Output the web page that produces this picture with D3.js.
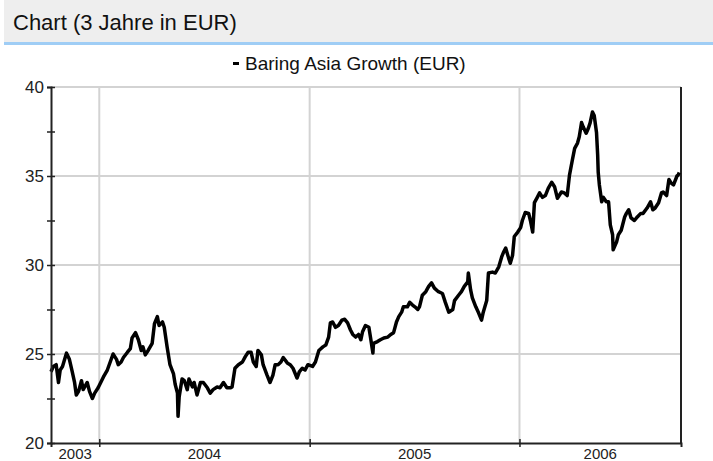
<!DOCTYPE html>
<html>
<head>
<meta charset="utf-8">
<script src="https://cdn.jsdelivr.net/npm/d3@7"></script>
<style>
  body { margin: 0; background: #fff; }
  text { font-family: Arial, "Liberation Sans", sans-serif; }
</style>
</head>
<body>
<div id="chart"></div>
<script>
const title = "Chart (3 Jahre in EUR)";
const seriesName = "Baring Asia Growth (EUR)";

const dates = [
  "2003-10-09","2003-10-13","2003-10-18","2003-10-22","2003-10-25","2003-10-29","2003-11-05","2003-11-10",
  "2003-11-15","2003-11-19","2003-11-22","2003-11-26","2003-12-01","2003-12-04","2003-12-11","2003-12-15",
  "2003-12-20","2003-12-24","2003-12-30","2004-01-08","2004-01-15","2004-01-20","2004-01-25","2004-01-31",
  "2004-02-03","2004-02-08","2004-02-12","2004-02-19","2004-02-24","2004-02-27","2004-03-04","2004-03-09",
  "2004-03-14","2004-03-17","2004-03-21","2004-03-26","2004-04-02","2004-04-06","2004-04-11","2004-04-14",
  "2004-04-20","2004-04-23","2004-04-28","2004-05-03","2004-05-09","2004-05-12","2004-05-16","2004-05-17",
  "2004-05-19","2004-05-24","2004-05-28","2004-06-02","2004-06-05","2004-06-11","2004-06-14","2004-06-19",
  "2004-06-25","2004-06-30","2004-07-07","2004-07-12","2004-07-17","2004-07-24","2004-07-29","2004-08-04",
  "2004-08-10","2004-08-16","2004-08-19","2004-08-24","2004-08-30","2004-09-06","2004-09-11","2004-09-16",
  "2004-09-21","2004-09-25","2004-09-30","2004-10-03","2004-10-09","2004-10-12","2004-10-19","2004-10-24",
  "2004-10-29","2004-11-02","2004-11-07","2004-11-12","2004-11-16","2004-11-23","2004-11-28","2004-12-03",
  "2004-12-10","2004-12-14","2004-12-19","2004-12-24","2004-12-29","2005-01-06","2005-01-11","2005-01-17",
  "2005-01-24","2005-01-29","2005-02-03","2005-02-06","2005-02-10","2005-02-15","2005-02-20","2005-02-26",
  "2005-03-03","2005-03-08","2005-03-13","2005-03-17","2005-03-22","2005-03-27","2005-03-31","2005-04-03",
  "2005-04-08","2005-04-14","2005-04-17","2005-04-21","2005-04-22","2005-04-29","2005-05-04","2005-05-10",
  "2005-05-17","2005-05-22","2005-05-27","2005-06-01","2005-06-05","2005-06-10","2005-06-13","2005-06-20",
  "2005-06-24","2005-06-29","2005-07-03","2005-07-08","2005-07-11","2005-07-16","2005-07-22","2005-07-27",
  "2005-08-01","2005-08-06","2005-08-13","2005-08-20","2005-08-25","2005-08-31","2005-09-07","2005-09-10",
  "2005-09-17","2005-09-22","2005-09-27","2005-10-03","2005-10-04","2005-10-08","2005-10-11","2005-10-17",
  "2005-10-22","2005-10-27","2005-10-30","2005-11-05","2005-11-08","2005-11-15","2005-11-20","2005-11-26",
  "2005-12-01","2005-12-04","2005-12-08","2005-12-13","2005-12-16","2005-12-20","2005-12-23","2005-12-29",
  "2006-01-03","2006-01-06","2006-01-11","2006-01-17","2006-01-20","2006-01-24","2006-01-27","2006-02-01",
  "2006-02-05","2006-02-10","2006-02-15","2006-02-20","2006-02-26","2006-03-03","2006-03-08","2006-03-15",
  "2006-03-20","2006-03-25","2006-03-29","2006-04-03","2006-04-07","2006-04-12","2006-04-15","2006-04-19",
  "2006-04-22","2006-04-27","2006-05-01","2006-05-04","2006-05-08","2006-05-11","2006-05-15","2006-05-17",
  "2006-05-18","2006-05-20","2006-05-24","2006-05-27","2006-06-01","2006-06-05","2006-06-08","2006-06-12",
  "2006-06-13","2006-06-19","2006-06-22","2006-06-27","2006-07-03","2006-07-06","2006-07-10","2006-07-14",
  "2006-07-20","2006-07-25","2006-07-31","2006-08-04","2006-08-11","2006-08-17","2006-08-21","2006-08-25",
  "2006-08-31","2006-09-05","2006-09-08","2006-09-14","2006-09-18","2006-09-22","2006-09-26","2006-10-02",
  "2006-10-04","2006-10-06"
];

const values = [
  24.0, 24.3, 24.4, 23.4, 24.1, 24.3, 25.05, 24.7,
  24.0, 23.4, 22.7, 22.9, 23.5, 23.0, 23.4, 22.9,
  22.5, 22.8, 23.1, 23.7, 24.1, 24.55, 25.0, 24.7,
  24.4, 24.55, 24.8, 25.1, 25.3, 25.9, 26.2, 25.8,
  25.2, 25.4, 24.95, 25.2, 25.6, 26.7, 27.1, 26.6,
  26.8, 26.5, 25.4, 24.4, 23.9, 23.3, 22.8, 21.5,
  22.6, 23.6, 23.5, 23.0, 23.6, 23.15, 23.4, 22.7,
  23.4, 23.4, 23.1, 22.8, 23.0, 23.15, 23.1, 23.4,
  23.1, 23.1, 23.15, 24.2, 24.4, 24.55, 24.85, 25.1,
  25.1, 24.55, 24.3, 25.2, 24.95, 24.4, 23.8, 23.4,
  23.8, 24.4, 24.4, 24.55, 24.8, 24.5, 24.4, 24.2,
  23.65, 24.0, 24.2, 24.1, 24.4, 24.3, 24.55, 25.2,
  25.4, 25.5, 25.95, 26.75, 26.8, 26.5, 26.6, 26.9,
  26.95, 26.75, 26.35, 26.1, 25.95, 26.1, 25.8, 26.25,
  26.6, 26.5, 25.9, 25.05, 25.6, 25.7, 25.8, 25.9,
  25.95, 26.1, 26.2, 26.8, 27.1, 27.35, 27.65, 27.65,
  27.9, 27.75, 27.65, 27.5, 27.65, 28.3, 28.5, 28.8,
  29.0, 28.7, 28.5, 28.4, 27.9, 27.35, 27.5, 28.0,
  28.3, 28.5, 28.8, 29.05, 29.55, 28.6, 28.15, 27.65,
  27.3, 26.9, 27.35, 28.0, 29.55, 29.6, 29.55, 29.9,
  30.45, 30.7, 30.95, 30.4, 30.1, 30.55, 31.6, 31.85,
  32.1, 32.5, 32.95, 32.9, 32.5, 31.85, 33.5, 33.8,
  34.05, 33.8, 33.9, 34.3, 34.65, 34.4, 33.75, 34.1,
  34.05, 33.9, 35.05, 35.9, 36.55, 36.85, 37.2, 38.0,
  37.75, 37.4, 37.7, 38.0, 38.6, 38.4, 37.45, 36.2,
  35.2, 34.5, 33.55, 33.8, 33.55, 33.55, 32.25, 31.7,
  30.85, 31.3, 31.7, 31.95, 32.7, 32.9, 33.1, 32.65,
  32.5, 32.7, 32.9, 32.9, 33.2, 33.55, 33.1, 33.2,
  33.5, 34.05, 34.1, 33.9, 34.8, 34.6, 34.5, 35.0,
  35.05, 35.2
];

const xDomain = ["2003-10-09", "2006-10-09"];
const yearStarts = ["2004-01-01", "2005-01-01", "2006-01-01"];
const yearLabels = ["2003", "2004", "2005", "2006"];
const yMajor = [20, 25, 30, 35, 40];
const yMinor = [22.5, 27.5, 32.5, 37.5];

const parse = d3.timeParse("%Y-%m-%d");
const data = dates.map((d, i) => ({ date: parse(d), value: values[i] }));

const W = 713, H = 461;
const plot = { left: 51, top: 87, right: 681, bottom: 443 };

const svg = d3.select("#chart").append("svg")
    .attr("width", W)
    .attr("height", H);

// header band
svg.append("rect")
    .attr("x", 4).attr("y", 0)
    .attr("width", W - 4).attr("height", 42)
    .attr("fill", "#eeeeee");
svg.append("rect")
    .attr("x", 4).attr("y", 42)
    .attr("width", W - 4).attr("height", 3)
    .attr("fill", "#9fcdf5");
svg.append("text")
    .attr("x", 13).attr("y", 30)
    .attr("font-size", 22)
    .attr("fill", "#111")
    .text(title);

var x = d3.scaleTime()
    .domain(xDomain.map(parse))
    .range([plot.left, plot.right]);

var y = d3.scaleLinear()
    .domain([20, 40])
    .range([plot.bottom, plot.top]);

// grid
svg.append("g")
    .selectAll("line")
    .data(yMajor.slice(1))
    .enter().append("line")
      .attr("x1", plot.left).attr("x2", plot.right)
      .attr("y1", d => y(d)).attr("y2", d => y(d))
      .attr("stroke", "#d3d3d3")
      .attr("stroke-width", 2);

svg.append("g")
    .selectAll("line")
    .data(yearStarts.map(parse))
    .enter().append("line")
      .attr("x1", d => x(d)).attr("x2", d => x(d))
      .attr("y1", plot.top).attr("y2", plot.bottom)
      .attr("stroke", "#d3d3d3")
      .attr("stroke-width", 2);

// right border
svg.append("line")
    .attr("x1", plot.right).attr("x2", plot.right)
    .attr("y1", plot.top).attr("y2", plot.bottom)
    .attr("stroke", "#222")
    .attr("stroke-width", 2);

// series
var line = d3.line()
    .x(d => x(d.date))
    .y(d => y(d.value));

svg.append("path")
    .datum(data)
    .attr("fill", "none")
    .attr("stroke", "#000")
    .attr("stroke-width", 3.5)
    .attr("stroke-linejoin", "round")
    .attr("d", line);

// y axis
var yAxis = svg.append("g")
    .attr("transform", "translate(" + plot.left + ",0)")
    .call(d3.axisLeft(y)
      .tickValues(yMajor.concat(yMinor).sort(d3.ascending))
      .tickSize(4)
      .tickPadding(3)
      .tickFormat(d => yMajor.includes(d) ? d : ""));
yAxis.select(".domain").attr("stroke", "#222").attr("stroke-width", 2);
yAxis.selectAll(".tick line").attr("x1", 4).attr("stroke", "#222").attr("stroke-width", 1.5);
yAxis.selectAll(".tick text")
    .attr("font-family", "Arial, 'Liberation Sans', sans-serif")
    .attr("font-size", 17)
    .attr("fill", "#222");

// x axis
var xAxis = svg.append("g")
    .attr("transform", "translate(0," + plot.bottom + ")")
    .call(d3.axisBottom(x)
      .tickValues(yearStarts.map(parse))
      .tickSize(4)
      .tickFormat(""));
xAxis.select(".domain").attr("stroke", "#222").attr("stroke-width", 2);
xAxis.selectAll(".tick line").attr("y1", -4).attr("stroke", "#222").attr("stroke-width", 1.5);

// year labels centred in the visible part of each year
var bounds = [x.domain()[0]].concat(yearStarts.map(parse), [x.domain()[1]]);
svg.append("g")
    .selectAll("text")
    .data(yearLabels)
    .enter().append("text")
      .attr("x", (d, i) => (x(bounds[i]) + x(bounds[i + 1])) / 2)
      .attr("y", 459)
      .attr("text-anchor", "middle")
      .attr("font-size", 15)
      .attr("fill", "#222")
      .text(d => d);

// legend
var legend = svg.append("g");
legend.append("rect")
    .attr("x", 233).attr("y", 62)
    .attr("width", 6).attr("height", 3)
    .attr("fill", "#000");
legend.append("text")
    .attr("x", 245).attr("y", 70)
    .attr("font-size", 19)
    .attr("fill", "#111")
    .text(seriesName);
</script>
</body>
</html>
